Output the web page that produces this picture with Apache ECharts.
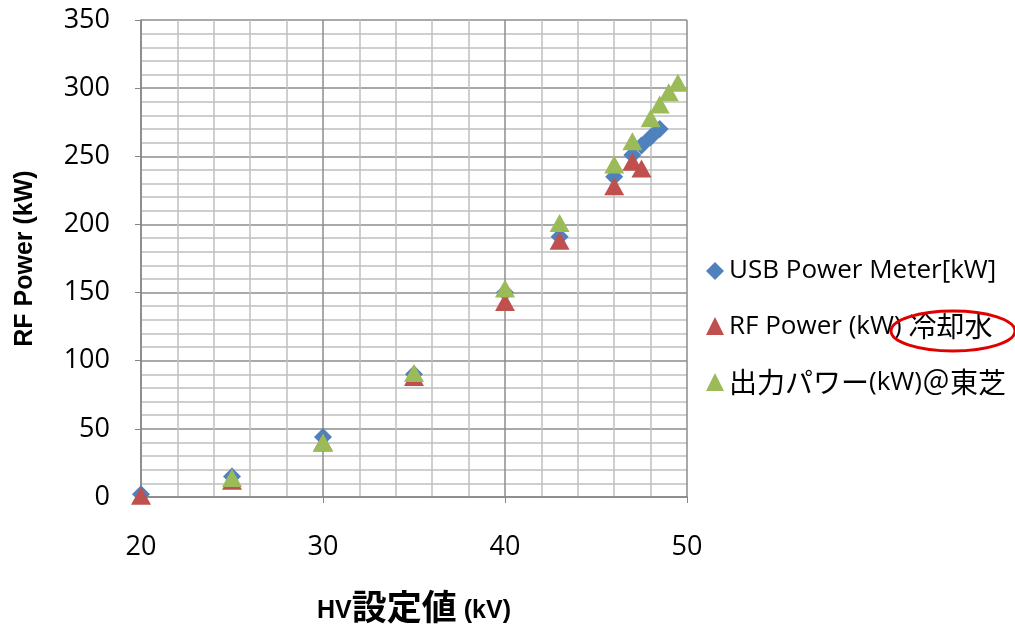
<!DOCTYPE html>
<html><head><meta charset="utf-8">
<script src="https://cdn.jsdelivr.net/npm/echarts@6/dist/echarts.min.js"></script>
<style>html,body{margin:0;padding:0;background:#fff}#c{width:1015px;height:625px}</style>
</head><body><div id="c"></div>
<script>
const usbX = [20, 25, 30, 35, 40, 43, 46, 47, 47.5, 48, 48.5];
const usbY = [2, 15, 44, 90, 150, 191, 235, 251, 258, 264, 270];
const rfX = [20, 25, 30, 35, 40, 43, 46, 47, 47.5];
const rfY = [1, 12, 40, 88, 143, 188, 228, 246, 241];
const toshibaX = [25, 30, 35, 40, 43, 46, 47, 48, 48.5, 49, 49.5];
const toshibaY = [14, 40, 91, 153, 201, 244, 261, 278, 288, 297, 304];
const seriesNames = ['USB Power Meter[kW]', 'RF Power (kW) 冷却水', '出力パワー(kW)＠東芝'];
const xTitle = 'HV設定値 (kV)';
const yTitle = 'RF Power (kW)';

const zip = (xs, ys) => xs.map((x, i) => [x, ys[i]]);
const LATIN = "'Open Sans', sans-serif";
const CJK = "'Noto Sans CJK JP', sans-serif";
function toRich(s) {
  const runs = s.match(/[\u0000-\u00ff]+|[^\u0000-\u00ff]+/g) || [];
  return runs.map(r => /^[\u0000-\u00ff]+$/.test(r) ? '{l|' + r + '}' : '{c|' + r + '}').join('');
}
const chart = echarts.init(document.getElementById('c'));
chart.setOption({
  animation: false,
  backgroundColor: '#fff',
  textStyle: { fontFamily: LATIN },
  grid: { left: 141, right: 328, top: 20, bottom: 128, containLabel: false, outerBoundsMode: 'none' },
  xAxis: {
    type: 'value', min: 20, max: 50, interval: 10,
    name: toRich(xTitle), nameLocation: 'middle', nameGap: 92,
    nameTextStyle: {
      color: '#000',
      rich: {
        l: { fontSize: 25, fontWeight: 'bold', fontFamily: "'Liberation Sans', Arial, sans-serif", color: '#000', verticalAlign: 'bottom' },
        c: { fontSize: 35, fontWeight: 'bold', fontFamily: CJK, color: '#000', verticalAlign: 'bottom' }
      }
    },
    axisLine: { show: true, lineStyle: { color: '#868686', width: 1.5 } },
    axisTick: { show: true, inside: false, length: 6, lineStyle: { color: '#868686' } },
    axisLabel: { fontSize: 27, color: '#000', margin: 37, fontFamily: LATIN },
    splitLine: { show: true, lineStyle: { color: '#8c8c8c', width: 1.5 } },
    minorSplitLine: { show: true, lineStyle: { color: '#c0c0c0', width: 1.5 } },
    minorTick: { show: false, splitNumber: 5 }
  },
  yAxis: {
    type: 'value', min: 0, max: 350, interval: 50,
    name: yTitle, nameLocation: 'middle', nameGap: 103,
    nameTextStyle: { fontSize: 25, fontWeight: 'bold', color: '#000', fontFamily: "'Liberation Sans', Arial, sans-serif" },
    axisLine: { show: true, lineStyle: { color: '#868686', width: 1.5 } },
    axisTick: { show: true, inside: false, length: 6, lineStyle: { color: '#868686' } },
    axisLabel: { fontSize: 27, color: '#000', margin: 31, fontFamily: LATIN },
    splitLine: { show: true, lineStyle: { color: '#8c8c8c', width: 1.5 } },
    minorSplitLine: { show: true, lineStyle: { color: '#c0c0c0', width: 1.5 } },
    minorTick: { show: false, splitNumber: 5 }
  },
  legend: {
    orient: 'vertical', left: 701, top: 253, itemGap: 28,
    itemWidth: 18, itemHeight: 18,
    formatter: name => toRich(name),
    textStyle: {
      color: '#000',
      rich: {
        l: { fontSize: 26, fontFamily: LATIN, color: '#000', verticalAlign: 'bottom' },
        c: { fontSize: 28, fontFamily: CJK, color: '#000', verticalAlign: 'bottom' }
      }
    },
    data: [
      { name: seriesNames[0], icon: 'diamond' },
      { name: seriesNames[1], icon: 'triangle' },
      { name: seriesNames[2], icon: 'triangle' }
    ]
  },
  series: [
    { name: seriesNames[0], type: 'scatter', symbol: 'diamond', symbolSize: 18,
      itemStyle: { color: '#4F81BD', opacity: 1 }, data: zip(usbX, usbY) },
    { name: seriesNames[1], type: 'scatter', symbol: 'triangle', symbolSize: [20, 18],
      itemStyle: { color: '#C0504D', opacity: 1 }, data: zip(rfX, rfY) },
    { name: seriesNames[2], type: 'scatter', symbol: 'triangle', symbolSize: [20, 18],
      itemStyle: { color: '#9BBB59', opacity: 1 }, data: zip(toshibaX, toshibaY) }
  ],
  graphic: [
    { type: 'ellipse', shape: { cx: 953, cy: 331, rx: 62, ry: 20 },
      style: { fill: 'none', stroke: '#e00000', lineWidth: 3 }, z: 100 }
  ]
});
</script></body></html>
